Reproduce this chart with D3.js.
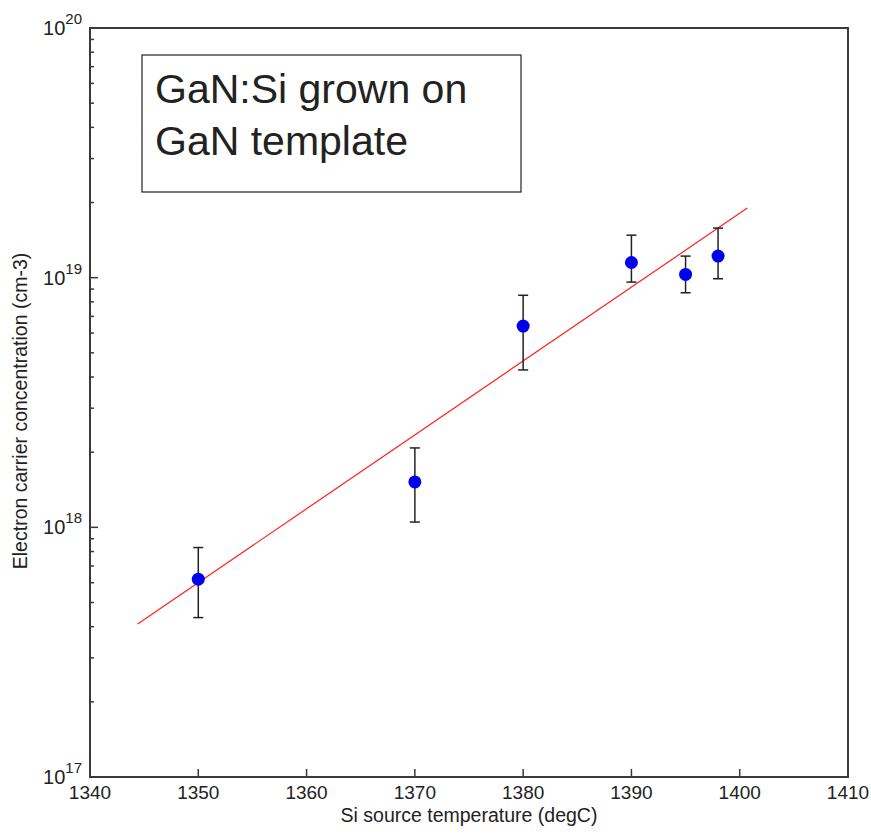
<!DOCTYPE html>
<html>
<head>
<meta charset="utf-8">
<script src="https://cdn.jsdelivr.net/npm/d3@7"></script>
<style>
  body { margin: 0; background: #fff; }
  text { font-family: Arial, "Liberation Sans", sans-serif; fill: #222; }
</style>
</head>
<body>
<script>
// data
const temps = [1350, 1370, 1380, 1390, 1395, 1398];
const conc = [6.2e17, 1.52e18, 6.4e18, 1.15e19, 1.03e19, 1.22e19];
const errHi = [8.3e17, 2.08e18, 8.5e18, 1.48e19, 1.22e19, 1.58e19];
const errLo = [4.35e17, 1.05e18, 4.27e18, 9.6e18, 8.7e18, 9.9e18];
const fitX = [1344.4, 1400.7];
const fitY = [4.1e17, 1.9e19];
const xTicks = [1340, 1350, 1360, 1370, 1380, 1390, 1400, 1410];
const yDecades = [17, 18, 19, 20];

const W = 871, H = 836;
const m = { left: 90, right: 23, top: 28, bottom: 59 };

const svg = d3.select('body').append('svg')
  .attr('width', W).attr('height', H);

const x = d3.scaleLinear().domain([1340, 1410]).range([m.left, W - m.right]);
const y = d3.scaleLog().domain([1e17, 1e20]).range([H - m.bottom, m.top]);

const axisColor = '#3a3a3a';

// frame
svg.append('rect')
  .attr('x', x(1340)).attr('y', y(1e20))
  .attr('width', x(1410) - x(1340)).attr('height', y(1e17) - y(1e20))
  .attr('fill', 'none').attr('stroke', axisColor).attr('stroke-width', 2);

// x ticks (inward)
svg.append('g').selectAll('line')
  .data(xTicks.slice(1, -1))
  .enter().append('line')
  .attr('x1', d => x(d)).attr('x2', d => x(d))
  .attr('y1', y(1e17)).attr('y2', y(1e17) - 8)
  .attr('stroke', axisColor).attr('stroke-width', 1.5);

svg.append('g').selectAll('text')
  .data(xTicks)
  .enter().append('text')
  .attr('x', d => x(d)).attr('y', y(1e17) + 22)
  .attr('text-anchor', 'middle')
  .style('font-size', '19px')
  .text(d => d);

// y ticks: majors and minors, inward
const yMinor = [];
[17, 18, 19].forEach(p => {
  for (let k = 2; k <= 9; k++) yMinor.push(k * Math.pow(10, p));
});
svg.append('g').selectAll('line')
  .data(yMinor)
  .enter().append('line')
  .attr('x1', x(1340)).attr('x2', x(1340) + 4)
  .attr('y1', d => y(d)).attr('y2', d => y(d))
  .attr('stroke', axisColor).attr('stroke-width', 1.5);
svg.append('g').selectAll('line')
  .data(yDecades.slice(1, -1))
  .enter().append('line')
  .attr('x1', x(1340)).attr('x2', x(1340) + 8)
  .attr('y1', d => y(Math.pow(10, d))).attr('y2', d => y(Math.pow(10, d)))
  .attr('stroke', axisColor).attr('stroke-width', 1.5);

const yLab = svg.append('g').selectAll('text')
  .data(yDecades)
  .enter().append('text')
  .attr('x', 82).attr('y', d => y(Math.pow(10, d)) + 7)
  .attr('text-anchor', 'end')
  .style('font-size', '20px');
yLab.append('tspan').text('10');
yLab.append('tspan').attr('dy', -11).style('font-size', '15px').text(d => d);

// axis titles
svg.append('text')
  .attr('x', (x(1340) + x(1410)) / 2).attr('y', 822)
  .attr('text-anchor', 'middle')
  .style('font-size', '19.5px')
  .text('Si source temperature (degC)');

svg.append('text')
  .attr('transform', 'translate(27, 411) rotate(-90)')
  .attr('text-anchor', 'middle')
  .style('font-size', '19.5px')
  .text('Electron carrier concentration (cm-3)');

// fit line
const fit = d3.line().x(d => x(d[0])).y(d => y(d[1]));
svg.append('path')
  .datum(fitX.map((v, i) => [v, fitY[i]]))
  .attr('d', fit)
  .attr('fill', 'none').attr('stroke', '#ff2020').attr('stroke-width', 1.2);

// error bars
const pts = temps.map((t, i) => ({ t, v: conc[i], hi: errHi[i], lo: errLo[i] }));
const eb = svg.append('g').attr('stroke', '#222').attr('stroke-width', 1.5);
pts.forEach(d => {
  eb.append('line').attr('x1', x(d.t)).attr('x2', x(d.t))
    .attr('y1', y(d.hi)).attr('y2', y(d.lo));
  eb.append('line').attr('x1', x(d.t) - 5).attr('x2', x(d.t) + 5)
    .attr('y1', y(d.hi)).attr('y2', y(d.hi));
  eb.append('line').attr('x1', x(d.t) - 5).attr('x2', x(d.t) + 5)
    .attr('y1', y(d.lo)).attr('y2', y(d.lo));
});

// points
svg.append('g').selectAll('circle')
  .data(pts)
  .enter().append('circle')
  .attr('cx', d => x(d.t)).attr('cy', d => y(d.v))
  .attr('r', 6.5)
  .attr('fill', '#0000ee');

// annotation box
svg.append('rect')
  .attr('x', 142).attr('y', 55).attr('width', 379).attr('height', 137)
  .attr('fill', '#fff').attr('stroke', '#222').attr('stroke-width', 1.2);
svg.append('text')
  .attr('x', 155).attr('y', 103)
  .style('font-size', '41px')
  .text('GaN:Si grown on');
svg.append('text')
  .attr('x', 155).attr('y', 155)
  .style('font-size', '41px')
  .text('GaN template');
</script>
</body>
</html>
